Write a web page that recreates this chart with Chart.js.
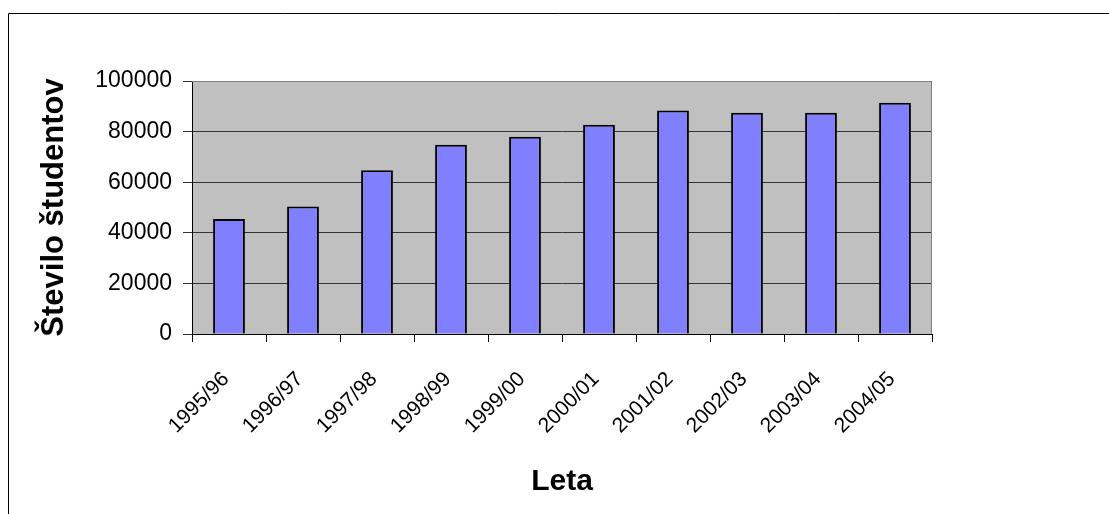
<!DOCTYPE html>
<html>
<head>
<meta charset="utf-8">
<script src="https://cdn.jsdelivr.net/npm/chart.js"></script>
<style>
  html, body { margin: 0; padding: 0; background: #fff; }
  #wrap { width: 1109px; height: 514px; }
</style>
</head>
<body>
<div id="wrap"><canvas id="studentChart" width="1109" height="514"></canvas></div>
<script>
var years = ['1995/96', '1996/97', '1997/98', '1998/99', '1999/00',
             '2000/01', '2001/02', '2002/03', '2003/04', '2004/05'];
var students = [45500, 50400, 64700, 74800, 78000, 82700, 88300, 87500, 87500, 91400];
var yTicks = [0, 20000, 40000, 60000, 80000, 100000];

var FONT = 'Arial, "Liberation Sans", sans-serif';

// siva podlaga in okvir risalne površine (kot v Excelu)
var plotArea = {
    id: 'plotArea',
    beforeDraw: function(chart){
        var a = chart.chartArea, ctx = chart.ctx;
        ctx.save();
        ctx.fillStyle = '#c0c0c0';
        ctx.fillRect(a.left, a.top, a.right - a.left, a.bottom - a.top);
        ctx.restore();
    },
    afterDraw: function(chart){
        var a = chart.chartArea, ctx = chart.ctx;
        ctx.save();
        ctx.strokeStyle = '#808080';
        ctx.lineWidth = 1;
        ctx.beginPath();
        ctx.moveTo(a.left, a.top + 0.5);
        ctx.lineTo(a.right - 0.5, a.top + 0.5);
        ctx.lineTo(a.right - 0.5, a.bottom);
        ctx.stroke();
        // zunanji okvir grafikona
        ctx.strokeStyle = '#000';
        ctx.beginPath();
        ctx.moveTo(8.5, chart.height);
        ctx.lineTo(8.5, 13.5);
        ctx.lineTo(chart.width, 13.5);
        ctx.stroke();
        ctx.restore();
    }
};

new Chart(document.getElementById('studentChart'), {
    type: 'bar',
    data: {
        labels: years,
        datasets: [{
            label: 'Število študentov',
            data: students,
            backgroundColor: '#8080ff',
            borderColor: '#000',
            borderWidth: 2,
            categoryPercentage: 1,
            barPercentage: 0.43
        }]
    },
    options: {
        responsive: false,
        animation: false,
        layout: { padding: { left: 30, top: 81, right: 177, bottom: 14 } },
        plugins: { legend: { display: false }, tooltip: { enabled: false } },
        scales: {
            x: {
                grid: { offset: true, drawOnChartArea: false, color: '#000', tickLength: 8 },
                border: { color: '#000', width: 1 },
                ticks: {
                    color: '#000', font: { family: FONT, size: 21 },
                    minRotation: 45, maxRotation: 45, padding: 25, labelOffset: -3
                },
                title: {
                    display: true, text: 'Leta', color: '#000',
                    font: { family: FONT, size: 30, weight: 'bold' },
                    padding: { top: 0, bottom: 0 }
                },
                afterFit: function(scale){ scale.height = 514 - 334 - 14; }
            },
            y: {
                min: 0, max: 100000,
                afterBuildTicks: function(scale){
                    scale.ticks = yTicks.map(v => ({ value: v }));
                },
                grid: { color: '#333', tickLength: 9 },
                border: { color: '#000', width: 1 },
                ticks: {
                    color: '#000', font: { family: FONT, size: 23 }, padding: 11,
                    callback: function(v){ return String(v); }
                },
                title: {
                    display: true, text: 'Število študentov', color: '#000',
                    font: { family: FONT, size: 31, weight: 'bold' },
                    padding: { top: 6, bottom: 0 }
                },
                afterFit: function(scale){ scale.width = 192 - 30; }
            }
        }
    },
    plugins: [plotArea]
});
</script>
</body>
</html>
